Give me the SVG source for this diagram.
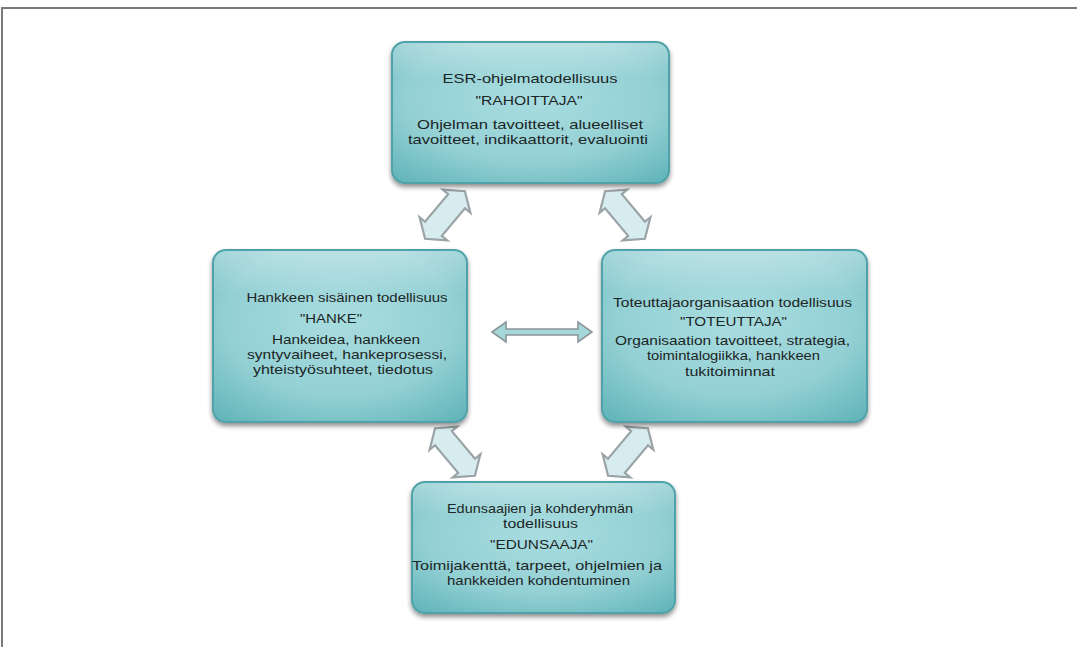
<svg xmlns="http://www.w3.org/2000/svg" width="1077" height="647" viewBox="0 0 1077 647">
<defs>
<radialGradient id="boxfill" cx="50%" cy="40%" r="75%">
<stop offset="0" stop-color="#a9dde0"/>
<stop offset="0.6" stop-color="#93d0d4"/>
<stop offset="1" stop-color="#62b5ba"/>
</radialGradient>
<linearGradient id="hl" x1="0" y1="0" x2="0" y2="1">
<stop offset="0" stop-color="#ffffff" stop-opacity="0.35"/>
<stop offset="0.25" stop-color="#ffffff" stop-opacity="0"/>
</linearGradient>
<filter id="shadow" x="-10%" y="-10%" width="120%" height="125%">
<feGaussianBlur in="SourceAlpha" stdDeviation="2.5"/>
<feOffset dx="0" dy="3" result="b"/>
<feComponentTransfer><feFuncA type="linear" slope="0.45"/></feComponentTransfer>
<feMerge><feMergeNode/><feMergeNode in="SourceGraphic"/></feMerge>
</filter>
<polygon id="darrow" points="-31,0 -18,-18 -18,-11 18,-11 18,-18 31,0 18,18 18,11 -18,11 -18,18"/>
</defs>
<style>
.box{fill:url(#boxfill);stroke:#4fa2a7;stroke-width:2;filter:url(#shadow)}
.hl{fill:url(#hl);stroke:none}
.t{font-family:"Liberation Sans",Arial,sans-serif;font-size:13px;fill:#1c2626;text-anchor:middle}
.da{fill:#d7ecef;stroke:#9aa3a6;stroke-width:2.2;stroke-linejoin:miter}
.ha{fill:#a6d7db;stroke:#8b9596;stroke-width:1.6}
.frame{stroke:#7a7a7a;stroke-width:2;fill:none}
</style>
<rect width="1077" height="647" fill="#ffffff"/>
<path class="frame" d="M2,647 L2,8 L1077,8"/>

<g id="connectors">
<use href="#darrow" class="da" transform="translate(445,215) rotate(-50)"/>
<use href="#darrow" class="da" transform="translate(625,215) rotate(50)"/>
<use href="#darrow" class="da" transform="translate(455,452) rotate(50)"/>
<use href="#darrow" class="da" transform="translate(628,452) rotate(-50)"/>
<polygon class="ha" points="492,332 506,322 506,329 578,329 578,322 592,332 578,342 578,335 506,335 506,342"/>
</g>

<g id="node-rahoittaja">
<rect class="box" x="392" y="42" width="277" height="141" rx="13"/>
<rect class="hl" x="393" y="43" width="275" height="139" rx="12"/>
<text class="t" x="530" y="83" textLength="175" lengthAdjust="spacingAndGlyphs">ESR-ohjelmatodellisuus</text>
<text class="t" x="529" y="105" textLength="107" lengthAdjust="spacingAndGlyphs">"RAHOITTAJA"</text>
<text class="t" x="530" y="128.5" textLength="226" lengthAdjust="spacingAndGlyphs">Ohjelman tavoitteet, alueelliset</text>
<text class="t" x="528" y="144" textLength="240" lengthAdjust="spacingAndGlyphs">tavoitteet, indikaattorit, evaluointi</text>
</g>

<g id="node-hanke">
<rect class="box" x="213" y="250" width="254" height="172" rx="13"/>
<rect class="hl" x="214" y="251" width="252" height="170" rx="12"/>
<text class="t" x="347" y="302" textLength="201" lengthAdjust="spacingAndGlyphs">Hankkeen  sisäinen todellisuus</text>
<text class="t" x="331" y="323" textLength="62" lengthAdjust="spacingAndGlyphs">"HANKE"</text>
<text class="t" x="346" y="344" textLength="148" lengthAdjust="spacingAndGlyphs">Hankeidea, hankkeen</text>
<text class="t" x="347" y="359" textLength="200" lengthAdjust="spacingAndGlyphs">syntyvaiheet, hankeprosessi,</text>
<text class="t" x="343" y="374" textLength="180" lengthAdjust="spacingAndGlyphs">yhteistyösuhteet, tiedotus</text>
</g>

<g id="node-toteuttaja">
<rect class="box" x="602" y="250" width="265" height="172" rx="13"/>
<rect class="hl" x="603" y="251" width="263" height="170" rx="12"/>
<text class="t" x="732.5" y="307" textLength="239" lengthAdjust="spacingAndGlyphs">Toteuttajaorganisaation todellisuus</text>
<text class="t" x="733.5" y="326" textLength="107" lengthAdjust="spacingAndGlyphs">"TOTEUTTAJA"</text>
<text class="t" x="732.5" y="344.5" textLength="235" lengthAdjust="spacingAndGlyphs">Organisaation tavoitteet, strategia,</text>
<text class="t" x="733.5" y="360" textLength="173" lengthAdjust="spacingAndGlyphs">toimintalogiikka, hankkeen</text>
<text class="t" x="730" y="375.5" textLength="90" lengthAdjust="spacingAndGlyphs">tukitoiminnat</text>
</g>

<g id="node-edunsaaja">
<rect class="box" x="412" y="482" width="263" height="131" rx="13"/>
<rect class="hl" x="413" y="483" width="261" height="129" rx="12"/>
<text class="t" x="540" y="512.5" textLength="186" lengthAdjust="spacingAndGlyphs">Edunsaajien ja kohderyhmän</text>
<text class="t" x="540.5" y="528" textLength="75" lengthAdjust="spacingAndGlyphs">todellisuus</text>
<text class="t" x="541.5" y="549" textLength="103" lengthAdjust="spacingAndGlyphs">"EDUNSAAJA"</text>
<text class="t" x="537" y="569.5" textLength="250" lengthAdjust="spacingAndGlyphs">Toimijakenttä, tarpeet, ohjelmien ja</text>
<text class="t" x="538.5" y="585" textLength="183" lengthAdjust="spacingAndGlyphs">hankkeiden kohdentuminen</text>
</g>
</svg>
